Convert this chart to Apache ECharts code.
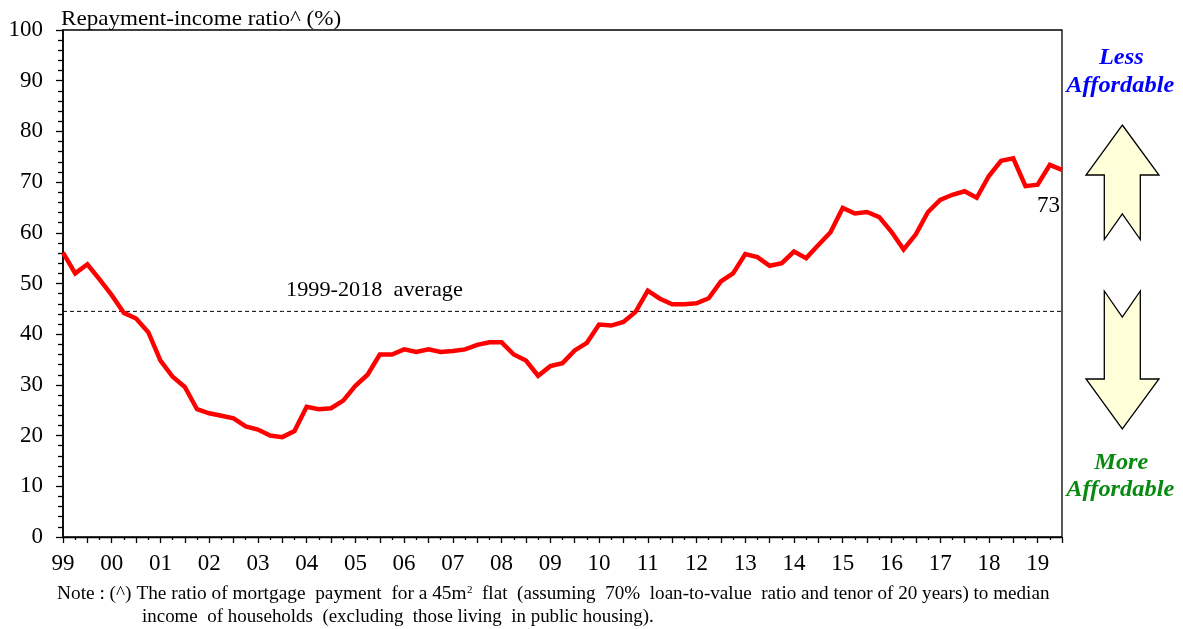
<!DOCTYPE html>
<html><head><meta charset="utf-8">
<style>html,body{margin:0;padding:0;background:#fff}#c{width:1183px;height:629px}</style>
<script src="https://cdn.jsdelivr.net/npm/echarts@6/dist/echarts.min.js"></script>
</head><body><div id="c"></div>
<script>
const yearLabels = ['99','00','01','02','03','04','05','06','07','08','09','10','11','12','13','14','15','16','17','18','19'];
const ratio = [56.1,52.0,53.8,50.8,47.7,44.2,43.1,40.4,34.8,31.6,29.6,25.2,24.4,23.9,23.4,21.8,21.2,20.0,19.7,20.9,
25.7,25.2,25.4,26.9,29.8,32.0,36.0,36.0,37.0,36.5,37.0,36.5,36.7,37.0,37.9,38.4,38.4,36.0,34.8,31.8,
33.7,34.3,36.8,38.3,41.9,41.7,42.4,44.4,48.6,47.0,45.9,45.9,46.1,47.1,50.4,52.0,55.8,55.2,53.5,54.0,
56.3,55.0,57.6,60.1,64.9,63.8,64.1,63.1,60.2,56.7,59.7,64.1,66.5,67.5,68.2,66.9,71.2,74.2,74.7,69.2,
69.5,73.4,72.4];
const averageValue = 44.5;
const latestLabel = '73';
const yTitle = 'Repayment-income ratio^ (%)';
const averageLabel = '1999-2018  average';
const serif = '"Liberation Serif","Times New Roman",serif';

const pts = ratio.map((v, i) => [i, v]);
const avgPts = ratio.map((v, i) => [i, averageValue]);

function txt(x, y, text, size, sx, extra) {
  return { type: 'text', x, y, scaleX: sx || 1, silent: true, z: 10,
    style: Object.assign({ text, fontFamily: serif, fontSize: size, fill: '#000', verticalAlign: 'middle' }, extra || {}) };
}
function arrow(points) {
  return { type: 'polygon', silent: true, z: 10, shape: { points },
    style: { fill: '#FFFFD9', stroke: '#000', lineWidth: 1.3 } };
}
const ax = 1122.3;
const bi = (fill) => ({ fill, fontStyle: 'italic', fontWeight: 'bold', align: 'center' });
const chart = echarts.init(document.getElementById('c'), null, { renderer: 'canvas' });
chart.setOption({
  animation: false,
  backgroundColor: '#fff',
  grid: { left: 63, right: 121, top: 30, bottom: 92, show: true, borderColor: '#000', borderWidth: 1.3, backgroundColor: 'transparent' },
  xAxis: {
    type: 'value', min: 0, max: ratio.length - 1, interval: 2,
    splitLine: { show: false },
    axisLine: { onZero: false, lineStyle: { color: '#000', width: 1.3 } },
    axisTick: { show: true, length: 6, lineStyle: { color: '#000', width: 1.3 } },
    minorTick: { show: true, splitNumber: 2, length: 3, lineStyle: { color: '#000', width: 1.3 } },
    minorSplitLine: { show: false },
    axisLabel: { margin: 15, showMaxLabel: false, hideOverlap: false, color: '#000', fontFamily: serif, fontSize: 23,
      formatter: v => (v % 4 === 0 ? yearLabels[v / 4] : '') }
  },
  yAxis: {
    type: 'value', min: 0, max: 100, interval: 10,
    splitLine: { show: false },
    axisLine: { show: true, lineStyle: { color: '#000', width: 1.6 } },
    axisTick: { show: true, length: 7, lineStyle: { color: '#000', width: 1.3 } },
    minorTick: { show: true, splitNumber: 5, length: 5, lineStyle: { color: '#000', width: 1.3 } },
    minorSplitLine: { show: false },
    axisLabel: { margin: 20, color: '#000', fontFamily: serif, fontSize: 23 }
  },
  series: [
    { name: '1999-2018 average', type: 'line', data: avgPts, symbol: 'none', silent: true, z: 2,
      lineStyle: { color: '#000', width: 1, type: [4, 3] } },
    { name: 'Repayment-income ratio', type: 'line', data: pts, symbol: 'none', z: 3,
      lineStyle: { color: '#FF0000', width: 4.5, join: 'miter', cap: 'butt' },
      endLabel: { show: true, formatter: latestLabel, offset: [-33, 36], fontFamily: serif, fontSize: 23, color: '#000' } }
  ],
  graphic: [
    txt(61, 19, yTitle, 21, 1.1),
    txt(286, 290, averageLabel, 21, 1.06),
    arrow([[ax,125],[1159,175],[1140.3,175],[1140.3,239.5],[ax,214],[1104.3,239.5],[1104.3,175],[1086,175]]),
    arrow([[1104.3,291],[ax,317],[1140.3,291],[1140.3,379],[1159,379],[ax,429],[1086,379],[1104.3,379]]),
    txt(ax - 1, 58, 'Less', 23, 1.06, bi('#0000FF')),
    txt(ax - 2, 86, 'Affordable', 23, 1.06, bi('#0000FF')),
    txt(ax - 1, 463, 'More', 23, 1.06, bi('#078A0F')),
    txt(ax - 2, 490, 'Affordable', 23, 1.06, bi('#078A0F')),
    txt(57, 594, 'Note : (^) The ratio of mortgage  payment  for a 45m', 18, 1.074),
    txt(467, 590, '2', 11),
    txt(482, 594, 'flat  (assuming  70%  loan-to-value  ratio and tenor of 20 years) to median', 18, 1.062),
    txt(142, 617, 'income  of households  (excluding  those living  in public housing).', 18, 1.052)
  ]
});
</script></body></html>
